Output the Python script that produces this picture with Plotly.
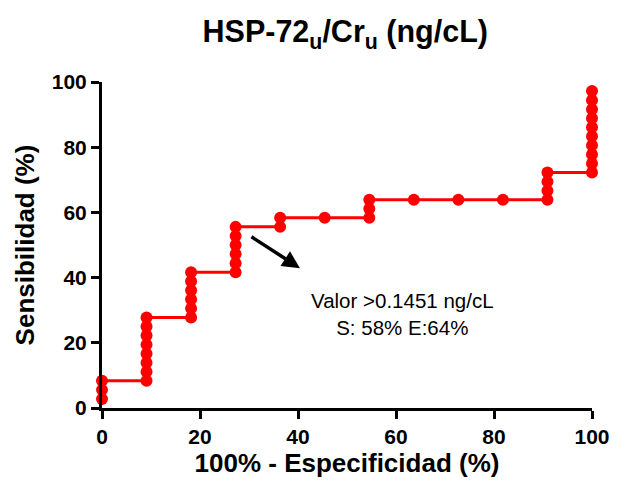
import plotly.graph_objects as go

# 100% - specificity values (11 controls)
fpr = [0, 0, 0,
       9.09, 9.09, 9.09, 9.09, 9.09, 9.09, 9.09, 9.09,
       18.18, 18.18, 18.18, 18.18, 18.18, 18.18,
       27.27, 27.27, 27.27, 27.27, 27.27, 27.27,
       36.36, 36.36,
       45.45,
       54.55, 54.55, 54.55,
       63.64, 72.73, 81.82,
       90.91, 90.91, 90.91, 90.91,
       100, 100, 100, 100, 100, 100, 100, 100, 100, 100]
# sensitivity values (36 cases)
sens = [2.78, 5.56, 8.33,
        8.33, 11.11, 13.89, 16.67, 19.44, 22.22, 25.00, 27.78,
        27.78, 30.56, 33.33, 36.11, 38.89, 41.67,
        41.67, 44.44, 47.22, 50.00, 52.78, 55.56,
        55.56, 58.33,
        58.33,
        58.33, 61.11, 63.89,
        63.89, 63.89, 63.89,
        63.89, 66.67, 69.44, 72.22,
        72.22, 75.00, 77.78, 80.56, 83.33, 86.11, 88.89, 91.67, 94.44, 97.22]

ticks = [0, 20, 40, 60, 80, 100]

FONT = "Liberation Sans, Arial"

fig = go.Figure()
fig.add_trace(go.Scatter(
    x=fpr, y=sens, mode="lines+markers",
    line=dict(color="#ff0000", width=3),
    marker=dict(color="#ff0000", size=12),
    cliponaxis=False, showlegend=False,
))

axis_common = dict(
    showgrid=False, zeroline=False, showline=True, linecolor="black", linewidth=3,
    ticks="outside", ticklen=8, tickwidth=3, tickcolor="black",
    tickfont=dict(family=FONT, size=21, color="black", weight="bold"),
    tickvals=ticks, range=[0, 100],
)

fig.update_layout(
    width=630, height=488,
    margin=dict(l=102, r=38, t=82, b=80),
    paper_bgcolor="white", plot_bgcolor="white",
    title=dict(text="HSP-72<sub>u</sub>/Cr<sub>u</sub> (ng/cL)", x=0.548, xanchor="center",
               y=0.935, yanchor="middle",
               font=dict(family=FONT, size=30.5, color="black", weight="bold")),
    xaxis=dict(**axis_common,
               title=dict(text="100% - Especificidad (%)", standoff=7,
                          font=dict(family=FONT, size=26, color="black", weight="bold"))),
    yaxis=dict(**axis_common,
               title=dict(text="Sensibilidad (%)", standoff=10,
                          font=dict(family=FONT, size=26, color="black", weight="bold"))),
    annotations=[
        dict(x=40.4, y=42.9, ax=30.2, ay=52.8, xref="x", yref="y", axref="x", ayref="y",
             showarrow=True, arrowhead=2, arrowsize=1, arrowwidth=3.5, arrowcolor="black", text=""),
        dict(x=61.3, y=28.8, xref="x", yref="y", showarrow=False,
             text="Valor >0.1451 ng/cL<br>S: 58% E:64%", align="center",
             font=dict(family=FONT, size=20.5, color="black")),
    ],
)

fig.write_html("out.html")
